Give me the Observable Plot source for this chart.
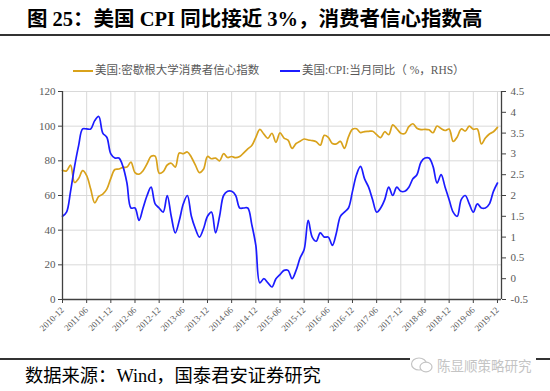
<!DOCTYPE html>
<html><head><meta charset="utf-8">
<script src="https://cdn.jsdelivr.net/npm/d3@7"></script>
<script src="https://cdn.jsdelivr.net/npm/@observablehq/plot@0.6"></script>
<style>
body{margin:0;background:#fff;}
#wrap{position:relative;width:550px;height:391px;overflow:hidden;background:#fff;font-family:"Noto Sans CJK SC",sans-serif;}
#title{position:absolute;left:27px;top:7px;font-size:20.5px;line-height:24px;font-weight:bold;font-family:"Liberation Serif","Noto Sans CJK SC",serif;color:#000;white-space:nowrap;}
#rule1{position:absolute;left:0;top:34px;width:550px;height:2px;background:#333;}
.leg{position:absolute;top:63px;font-size:11.5px;line-height:14px;color:#595959;white-space:nowrap;font-family:"Liberation Serif","Noto Sans CJK SC",serif;}
.sw{position:absolute;top:70px;height:2px;width:20px;}
#chart{position:absolute;left:0;top:80px;}
#rule2{position:absolute;left:0;top:358px;width:550px;height:2px;background:#333;}
#caption{position:absolute;left:25px;top:365px;font-size:18.3px;line-height:22px;color:#000;white-space:nowrap;font-family:"Liberation Serif","Noto Sans CJK SC",serif;}
#wm{position:absolute;left:410px;top:355px;height:20px;padding-right:4px;background:#fff;color:#c4c4c4;font-size:13.5px;line-height:20px;white-space:nowrap;}
</style></head>
<body>
<div id="wrap">
  <div id="title">图 25：美国 CPI 同比接近 3%，消费者信心指数高</div>
  <div id="rule1"></div>
  <div class="sw" id="sw1" style="left:73px;"></div>
  <div class="leg" id="lg1" style="left:95px;"></div>
  <div class="sw" id="sw2" style="left:280px;"></div>
  <div class="leg" id="lg2" style="left:302px;"></div>
  <div id="chart"></div>
  <div id="rule2"></div>
  <div id="caption">数据来源：Wind，国泰君安证券研究</div>
  <div id="wm"><svg width="24" height="18" viewBox="0 0 24 18" style="vertical-align:-3px"><ellipse cx="9" cy="8" rx="7.5" ry="6" fill="none" stroke="#c4c4c4" stroke-width="1.2"/><ellipse cx="16" cy="11" rx="6" ry="4.8" fill="#fff" stroke="#c4c4c4" stroke-width="1.2"/></svg> 陈显顺策略研究</div>
</div>
<script>
// ---- data (monthly, 2010-12 .. 2019-12) ----
const seriesNames = ["美国:密歇根大学消费者信心指数", "美国:CPI:当月同比（ %，RHS）"];
const startMonth = "2010-12";
const sentiment = [74.5,
 74.2,77.5,67.5,69.8,74.3,71.5,63.7,55.8,59.5,60.8,63.7,69.9,
 75.0,75.3,76.2,76.4,79.3,73.2,72.3,74.3,78.3,82.6,82.7,72.9,
 73.8,77.6,78.6,76.4,84.5,84.1,85.1,82.1,77.5,73.2,75.1,82.5,
 81.2,81.6,80.0,84.1,81.9,82.5,81.8,82.5,84.6,86.9,88.8,93.6,
 98.1,95.4,93.0,95.9,90.7,96.1,93.1,91.9,87.2,90.0,91.3,92.6,
 92.0,91.7,91.0,89.0,94.7,93.5,90.0,89.8,91.2,87.2,93.8,98.2,
 98.5,96.3,96.9,97.0,97.1,95.1,93.4,96.8,95.1,100.7,98.5,95.9,
 95.7,99.7,101.4,98.8,98.0,98.2,97.9,96.2,100.1,98.6,97.5,98.3,
 91.2,93.8,98.4,97.2,100.0,98.2,98.4,89.8,93.2,95.5,96.8,99.3];
const cpi = [1.5,
 1.6,2.1,2.7,3.2,3.6,3.6,3.6,3.8,3.9,3.5,3.4,3.0,
 2.9,2.9,2.7,2.3,1.7,1.7,1.4,1.7,2.0,2.2,1.8,1.7,
 1.6,2.0,1.5,1.1,1.4,1.8,2.0,1.5,1.2,1.0,1.2,1.5,
 1.6,1.1,1.5,2.0,2.1,2.1,2.0,1.7,1.7,1.7,1.3,0.8,
 -0.1,0.0,-0.1,-0.2,0.0,0.1,0.2,0.2,0.0,0.2,0.5,0.7,
 1.4,1.0,0.9,1.1,1.0,1.0,0.8,1.1,1.5,1.6,1.7,2.1,
 2.5,2.7,2.4,2.2,1.9,1.6,1.7,1.9,2.2,2.0,2.2,2.1,
 2.1,2.2,2.4,2.5,2.8,2.9,2.9,2.7,2.3,2.5,2.2,1.9,
 1.6,1.5,1.9,2.0,1.8,1.6,1.8,1.7,1.7,1.8,2.1,2.3];
const xTickLabels = ["2010-12","2011-06","2011-12","2012-06","2012-12","2013-06","2013-12","2014-06","2014-12","2015-06","2015-12","2016-06","2016-12","2017-06","2017-12","2018-06","2018-12","2019-06","2019-12"];
const leftTicks = [0,20,40,60,80,100,120];
const rightTicks = [-0.5,0,0.5,1,1.5,2,2.5,3,3.5,4,4.5];
const rightTickLabels = ["-0.5","0","0.5","1","1.5","2","2.5","3","3.5","4","4.5"];
const colors = ["#D9A21B", "#1C1CFF"];

// ---- build ----
const lMin = 0, lMax = 120, rMin = -0.5, rMax = 4.5;
const toLeft = v => lMin + (v - rMin) * (lMax - lMin) / (rMax - rMin);
const data = sentiment.map((s, i) => ({i, sent: s, cpi: cpi[i]}));
const nMonths = sentiment.length; // 109
const tickIdx = xTickLabels.map((_, k) => k * 6);

document.getElementById("sw1").style.background = colors[0];
document.getElementById("sw2").style.background = colors[1];
document.getElementById("lg1").textContent = seriesNames[0];
document.getElementById("lg2").textContent = seriesNames[1];

const axisColor = "#404040", textColor = "#595959", gridColor = "#d9d9d9";
const chart = Plot.plot({
  width: 550, height: 275,
  marginLeft: 62, marginRight: 49, marginTop: 11, marginBottom: 56,
  style: {fontFamily: "'Liberation Serif', serif", fontSize: "11px", color: textColor, background: "transparent"},
  x: {domain: [0, nMonths], axis: null},
  y: {domain: [lMin, lMax], axis: null},
  marks: [
    Plot.gridY(leftTicks, {stroke: gridColor, strokeOpacity: 1, strokeWidth: 1}),
    Plot.gridX(tickIdx, {stroke: gridColor, strokeOpacity: 1, strokeWidth: 1}),
    Plot.line(data, {x: "i", y: "sent", stroke: colors[0], strokeWidth: 1.7, curve: "catmull-rom"}),
    Plot.line(data, {x: "i", y: d => toLeft(d.cpi), stroke: colors[1], strokeWidth: 1.7, curve: "catmull-rom"}),
    Plot.ruleX([0], {stroke: axisColor, strokeWidth: 1.3}),
    Plot.ruleX([nMonths], {stroke: axisColor, strokeWidth: 1.3}),
    Plot.ruleY([lMin], {stroke: axisColor, strokeWidth: 1.3}),
    Plot.axisY(leftTicks, {anchor: "left", tickSize: 4, tickPadding: 3, label: null, stroke: axisColor, fill: textColor, fontSize: 11}),
    Plot.axisY(rightTicks.map(toLeft), {anchor: "right", tickSize: 4, tickPadding: 5, label: null, stroke: axisColor, fill: textColor, fontSize: 11,
      tickFormat: v => rightTickLabels[Math.round((v - lMin) / ((lMax - lMin) / (rightTicks.length - 1)))]}),
    Plot.axisX(tickIdx, {anchor: "bottom", tickSize: 4, tickPadding: 5, label: null, stroke: axisColor, fill: textColor, fontSize: 9,
      tickRotate: -45, tickFormat: d => xTickLabels[Math.round(d / 6)]})
  ]
});
document.getElementById("chart").appendChild(chart);
</script>
</body></html>
